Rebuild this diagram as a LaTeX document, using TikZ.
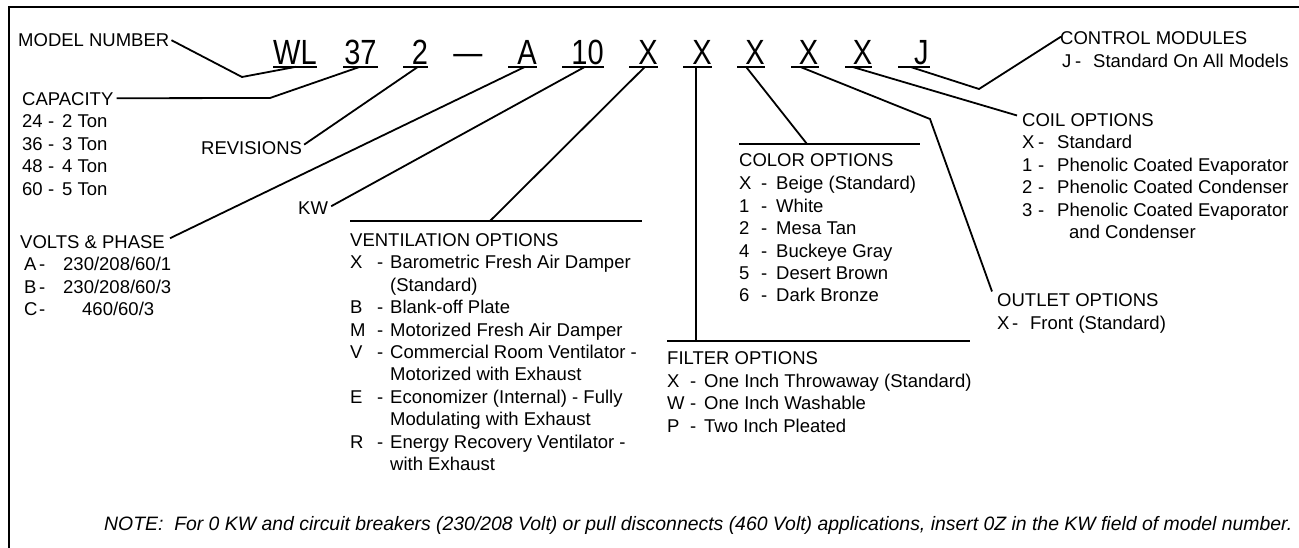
\documentclass[tikz,border=0pt]{standalone}
\usepackage{fontspec}
\setmainfont{Liberation Sans}
\newfontfamily\bigfont[FakeStretch=0.83]{Liberation Sans}
\newfontfamily\notefont{Liberation Sans}
\tikzset{
  txt/.style={anchor=base west, inner sep=0pt, font=\fontsize{18.5}{22.4}\selectfont},
  code/.style={anchor=base, inner sep=0pt, font=\bigfont\fontsize{35}{40}\selectfont},
  leader/.style={line width=1.8pt, line join=miter},
  rulel/.style={line width=1.2pt},
  uline/.style={line width=1.5pt},
  frame/.style={line width=2pt}
}
\begin{document}
\begin{tikzpicture}[x=1pt,y=-1pt]
\useasboundingbox (0,0) rectangle (1299,548);
\draw[frame] (9,560) -- (9,7.5) -- (1310,7.5);

% model number characters
\node[code] (cWL) at (295,65) {WL};
\node[code] (c37) at (360.5,65) {37};
\node[code] (c2) at (420,65) {2};
\node[code] (cdash) at (468,65) {—};
\node[code] (cA) at (527,65) {A};
\node[code] (c10) at (587.5,65) {10};
\node[code] (cX1) at (648,65) {X};
\node[code] (cX2) at (702,65) {X};
\node[code] (cX3) at (755,65) {X};
\node[code] (cX4) at (808.5,65) {X};
\node[code] (cX5) at (862.5,65) {X};
\node[code] (cJ) at (921.5,65) {J};

% underlines
\draw[uline] (273,66.8) -- (317,66.8);
\draw[uline] (343,66.8) -- (378,66.8);
\draw[uline] (403,66.8) -- (428,66.8);
\draw[uline] (508,66.8) -- (537,66.8);
\draw[uline] (562,66.8) -- (604,66.8);
\draw[uline] (629,66.8) -- (658,66.8);
\draw[uline] (683,66.8) -- (712,66.8);
\draw[uline] (737,66.8) -- (765,66.8);
\draw[uline] (791,66.8) -- (819,66.8);
\draw[uline] (845,66.8) -- (872,66.8);
\draw[uline] (898,66.8) -- (930,66.8);

\coordinate (uWL) at (296,66.8);
\coordinate (u37) at (360,66.8);
\coordinate (u2) at (418,66.8);
\coordinate (uA) at (525,66.8);
\coordinate (u10) at (585,66.8);
\coordinate (uX1) at (645,66.8);
\coordinate (uX2) at (696,66.8);
\coordinate (uX3) at (746,66.8);
\coordinate (uX4) at (800,66.8);
\coordinate (uX5) at (852,66.8);
\coordinate (uJ) at (910,66.8);

% MODEL NUMBER
\node[txt] (mn) at (18,46.6) {MODEL NUMBER};
\draw[leader] ([xshift=2pt]mn.east) -- (242,77) -- (uWL);

% CAPACITY
\node[txt] (cap) at (22,105.6) {CAPACITY};
\node[txt] (capi) at (22,128) {\begin{tabular}[t]{@{}p{26pt}@{}p{14pt}@{}l@{}}
24 & - & 2 Ton\\
36 & - & 3 Ton\\
48 & - & 4 Ton\\
60 & - & 5 Ton
\end{tabular}};
\draw[leader] ([xshift=3pt,yshift=1pt]cap.east) -- (270,98) -- (u37);

% REVISIONS
\node[txt] (rev) at (201,155) {REVISIONS};
\draw[leader] ([xshift=2pt,yshift=4pt]rev.east) -- (u2);

% VOLTS & PHASE
\node[txt] (vp) at (20,248.6) {VOLTS \& PHASE};
\node[txt] (vpi) at (20,271) {\begin{tabular}[t]{@{}p{19pt}@{}p{24pt}@{}l@{}}
\hspace*{4pt}A & - & 230/208/60/1\\
\hspace*{4pt}B & - & 230/208/60/3\\
\hspace*{4pt}C & - & \hspace*{19pt}460/60/3
\end{tabular}};
\draw[leader] ([xshift=5pt,yshift=4pt]vp.east) -- (uA);

% KW
\node[txt] (kw) at (298,214.6) {KW};
\draw[leader] ([xshift=3pt,yshift=2pt]kw.east) -- (u10);

% VENTILATION OPTIONS
\coordinate (ventL) at (350,221);
\coordinate (ventR) at (642,221);
\coordinate (ventT) at (490,221);
\draw[rulel] (ventL) -- (ventR);
\draw[leader] (ventT) -- (uX1);
\node[txt] (vent) at (350,246.6) {VENTILATION OPTIONS};
\node[txt] (venti) at (350,269) {\begin{tabular}[t]{@{}p{27pt}@{}p{13pt}@{}l@{}}
X & - & Barometric Fresh Air Damper\\
 & & (Standard)\\
B & - & Blank-off Plate\\
M & - & Motorized Fresh Air Damper\\
V & - & Commercial Room Ventilator -\\
 & & Motorized with Exhaust\\
E & - & Economizer (Internal) - Fully\\
 & & Modulating with Exhaust\\
R & - & Energy Recovery Ventilator -\\
 & & with Exhaust
\end{tabular}};

% FILTER OPTIONS
\coordinate (filL) at (667,341);
\coordinate (filR) at (970,341);
\coordinate (filT) at (696,341);
\draw[rulel] (filL) -- (filR);
\draw[leader] (uX2) -- (filT);
\node[txt] (fil) at (667,364.6) {FILTER OPTIONS};
\node[txt] (fili) at (667,387.5) {\begin{tabular}[t]{@{}p{23pt}@{}p{14pt}@{}l@{}}
X & - & One Inch Throwaway (Standard)\\
W & - & One Inch Washable\\
P & - & Two Inch Pleated
\end{tabular}};

% COLOR OPTIONS
\coordinate (colL) at (739,144);
\coordinate (colR) at (920,144);
\coordinate (colT) at (807,144);
\draw[rulel] (colL) -- (colR);
\draw[leader] (colT) -- (uX3);
\node[txt] (col) at (739,167) {COLOR OPTIONS};
\node[txt] (coli) at (739,190) {\begin{tabular}[t]{@{}p{22pt}@{}p{15pt}@{}l@{}}
X & - & Beige (Standard)\\
1 & - & White\\
2 & - & Mesa Tan\\
4 & - & Buckeye Gray\\
5 & - & Desert Brown\\
6 & - & Dark Bronze
\end{tabular}};

% OUTLET OPTIONS
\node[txt] (out) at (997,306.6) {OUTLET OPTIONS};
\node[txt] (outi) at (997,329) {\begin{tabular}[t]{@{}p{15pt}@{}p{18pt}@{}l@{}}
X & - & Front (Standard)
\end{tabular}};
\draw[leader] (uX4) -- (930,119) -- ([xshift=-5pt,yshift=2pt]out.north west);

% COIL OPTIONS
\node[txt] (coil) at (1022,126.6) {COIL OPTIONS};
\node[txt] (coili) at (1022,149) {\begin{tabular}[t]{@{}p{16pt}@{}p{19pt}@{}l@{}}
X & - & Standard\\
1 & - & Phenolic Coated Evaporator\\
2 & - & Phenolic Coated Condenser\\
3 & - & Phenolic Coated Evaporator\\
 & & \hspace*{12pt}and Condenser
\end{tabular}};
\draw[leader] (uX5) -- ([xshift=-5pt,yshift=-2pt]coil.north west);

% CONTROL MODULES
\node[txt] (ctl) at (1060,45) {CONTROL MODULES};
\node[txt] (ctli) at (1060,67.5) {\begin{tabular}[t]{@{}p{15pt}@{}p{18pt}@{}l@{}}
\hspace*{2pt}J & - & Standard On All Models
\end{tabular}};
\draw[leader] (uJ) -- (979,89) -- ([xshift=1pt,yshift=2pt]ctl.west);

% NOTE
\node[anchor=base west, inner sep=0pt, font=\notefont\itshape\fontsize{19.4}{22}\selectfont] (note) at (104,530) {NOTE:\ \ For 0 KW and circuit breakers (230/208 Volt) or pull disconnects (460 Volt) applications, insert 0Z in the KW field of model number.};
\end{tikzpicture}
\end{document}
